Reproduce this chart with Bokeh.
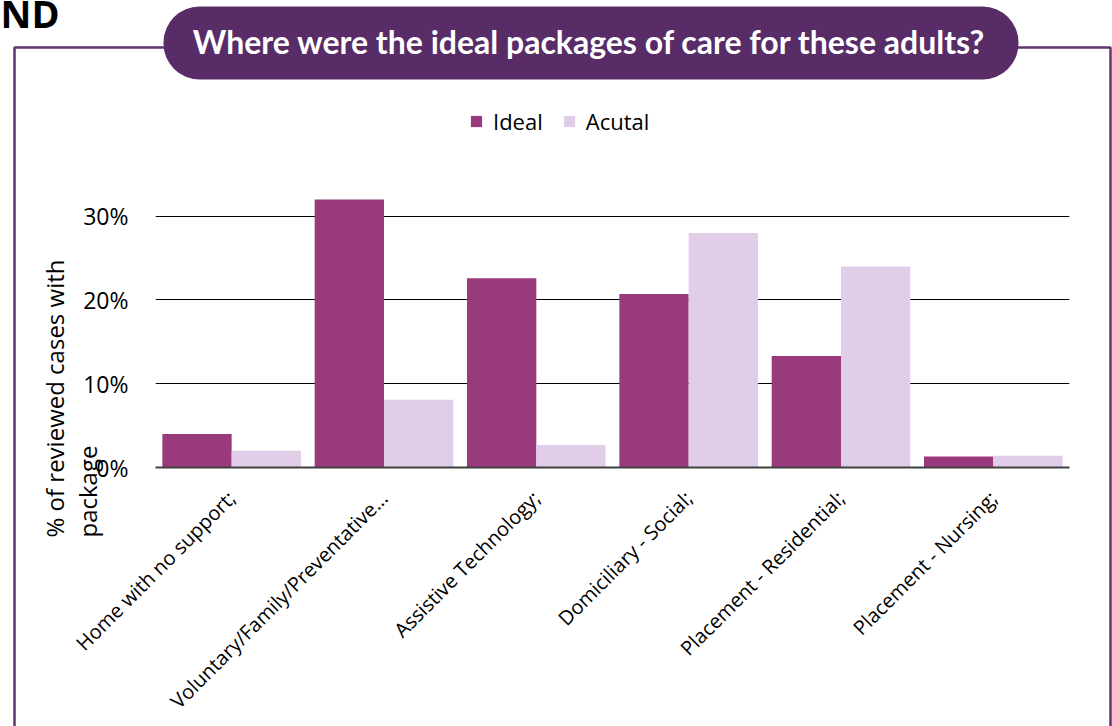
import math
from bokeh.plotting import figure
from bokeh.layouts import GridBox
from bokeh.models import (FactorRange, Range1d, FixedTicker, NumeralTickFormatter,
                          Label, BoxAnnotation, Legend, LegendItem, ColumnDataSource)
from bokeh.transform import dodge
from bokeh.embed import file_html
from bokeh.resources import INLINE

# ---- data ----
categories = ["Home with no support;", "Voluntary/Family/Preventative...",
              "Assistive Technology;", "Domiciliary - Social;",
              "Placement - Residential;", "Placement - Nursing;"]
ideal = [0.040, 0.320, 0.226, 0.207, 0.133, 0.013]
acutal = [0.020, 0.081, 0.027, 0.280, 0.240, 0.014]
y_ticks = [0.0, 0.1, 0.2, 0.3]
series_names = ["Ideal", "Acutal"]
title_text = "Where were the ideal packages of care for these adults?"
y_label_lines = ["% of reviewed cases with", "package"]

IDEAL_C = "#983A7C"
ACUT_C = "#E2CDE9"
PILL_C = "#582C67"
FRAME_C = "#5E3470"

W, H = 1112, 726
# plot frame in page pixels (top extended to hold the legend)
FL, FR, FT, FB = 155, 1069, 100, 468
PX_PER_UNIT = 840.0  # 10% == 84 px

# ---------------- background / decoration layer ----------------
bg = figure(width=W, height=H, x_range=Range1d(0, W), y_range=Range1d(H, 0),
            min_border=0, toolbar_location=None, output_backend="svg",
            x_axis_location=None, y_axis_location=None,
            outline_line_color=None, background_fill_color="white",
            border_fill_color="white")
bg.grid.visible = False

bg.add_layout(BoxAnnotation(left=14, right=1110, top=47, bottom=760,
                            fill_alpha=0, line_color=FRAME_C, line_alpha=1,
                            line_width=2.5))
bg.add_layout(BoxAnnotation(left=163, right=1018, top=6, bottom=79,
                            fill_color=PILL_C, fill_alpha=1, line_color=None,
                            border_radius=36))
bg.add_layout(Label(x=589, y=41, text=title_text, text_align="center",
                    text_baseline="alphabetic", text_color="white",
                    text_font="Lato", text_font_style="bold",
                    text_font_size="32px"))
bg.add_layout(Label(x=0, y=12, text="ND", text_align="left",
                    text_baseline="alphabetic", text_color="black",
                    text_font="Open Sans", text_font_style="bold",
                    text_font_size="38px"))
for xx, line in zip([54, 87], y_label_lines):
    bg.add_layout(Label(x=xx, y=537, text=line, angle=math.pi / 2,
                        text_align="left", text_baseline="alphabetic",
                        text_color="black", text_font="Open Sans",
                        text_font_size="24px"))

# ---------------- chart layer ----------------
src = ColumnDataSource(dict(cat=categories, ideal=ideal, acutal=acutal))

p = figure(x_range=FactorRange(factors=categories, range_padding=0),
           y_range=Range1d(0, (FB - FT) / PX_PER_UNIT),
           width=W, height=H,
           min_border_left=FL, min_border_right=W - FR,
           min_border_top=FT, min_border_bottom=H - FB,
           output_backend="svg", toolbar_location=None,
           background_fill_alpha=0, border_fill_alpha=0,
           outline_line_color=None)

# keep each layer's frame independent when overlaid
for fig in (bg, p):
    try:
        fig.frame_align = False
    except Exception:
        pass

bw = 0.455
r1 = p.vbar(x=dodge("cat", -bw / 2, range=p.x_range), top="ideal", width=bw,
            source=src, fill_color=IDEAL_C, line_color=None)
r2 = p.vbar(x=dodge("cat", bw / 2, range=p.x_range), top="acutal", width=bw,
            source=src, fill_color=ACUT_C, line_color=None)

p.yaxis.ticker = FixedTicker(ticks=y_ticks)
p.yaxis.formatter = NumeralTickFormatter(format="0%")
p.yaxis.axis_line_color = None
p.yaxis.major_tick_line_color = None
p.yaxis.minor_tick_line_color = None
p.yaxis.major_tick_out = 0
p.yaxis.major_tick_in = 0
p.yaxis.major_label_standoff = 27
p.yaxis.major_label_text_font = "Open Sans"
p.yaxis.major_label_text_font_size = "23px"
p.yaxis.major_label_text_color = "black"

p.xaxis.axis_line_color = "#404040"
p.xaxis.axis_line_width = 2
p.xaxis.major_tick_line_color = None
p.xaxis.minor_tick_line_color = None
p.xaxis.major_tick_out = 0
p.xaxis.major_tick_in = 0
p.xaxis.major_label_orientation = math.pi / 4
p.xaxis.major_label_standoff = 27
p.xaxis.major_label_text_font = "Open Sans"
p.xaxis.major_label_text_font_size = "20px"
p.xaxis.major_label_text_color = "black"

p.xgrid.visible = False
p.ygrid.ticker = FixedTicker(ticks=y_ticks)
p.ygrid.grid_line_color = "black"
p.ygrid.grid_line_width = 1

legend = Legend(items=[LegendItem(label=series_names[0], renderers=[r1]),
                       LegendItem(label=series_names[1], renderers=[r2])],
                orientation="horizontal", location=(469 - FL, FB - 137),
                glyph_width=14, glyph_height=14, label_standoff=10, spacing=19,
                padding=0, margin=0, border_line_color=None,
                background_fill_alpha=0,
                label_text_font="Open Sans", label_text_font_size="22px",
                label_text_color="black")
p.add_layout(legend)

layout = GridBox(children=[(bg, 0, 0), (p, 0, 0)])

open("out.html", "w").write(file_html(layout, INLINE))
